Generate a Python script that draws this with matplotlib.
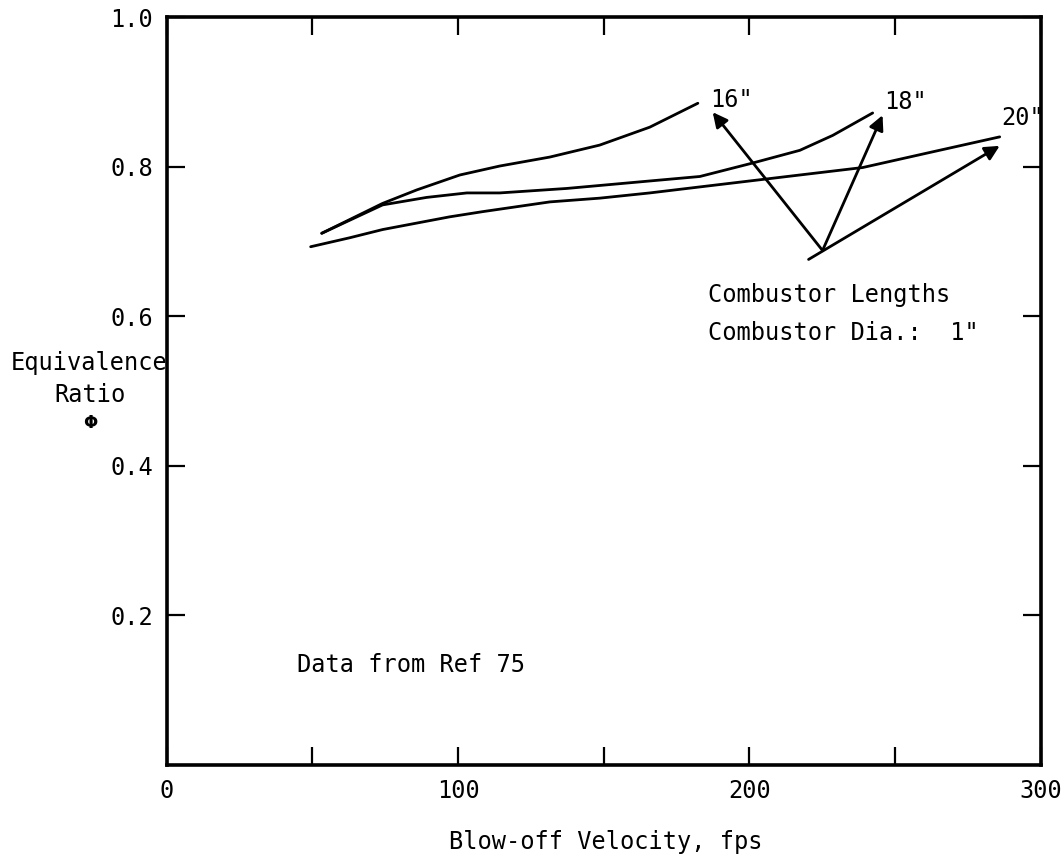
import matplotlib
matplotlib.use("Agg")
import matplotlib.pyplot as plt

# blow-off curves (velocity fps, equivalence ratio)
vel_16 = [53.2, 74.1, 85.8, 100.6, 114.3, 131.5, 148.6, 165.8, 182.3]
phi_16 = [0.711, 0.751, 0.769, 0.789, 0.801, 0.813, 0.829, 0.853, 0.885]

vel_18 = [53.2, 74.1, 89.2, 103.0, 114.3, 137.3, 165.8, 183.0, 201.1, 217.3, 228.6, 242.3]
phi_18 = [0.711, 0.749, 0.759, 0.765, 0.765, 0.771, 0.781, 0.787, 0.805, 0.822, 0.842, 0.872]

vel_20 = [49.4, 62.8, 74.1, 97.1, 108.5, 131.5, 148.6, 165.8, 182.9, 217.3, 238.9, 262.9, 285.9]
phi_20 = [0.693, 0.705, 0.716, 0.733, 0.740, 0.753, 0.758, 0.765, 0.773, 0.789, 0.799, 0.820, 0.840]

length_labels = ['16"', '18"', '20"']
label_pos = [(186.4, 0.889), (246.4, 0.886), (286.6, 0.865)]
arrow_tails = [(225.1, 0.688), (225.1, 0.688), (220.3, 0.676)]
arrow_heads = [(187.4, 0.873), (245.7, 0.869), (285.9, 0.828)]

x_ticks = [0, 50, 100, 150, 200, 250, 300]
x_labels = ["0", "", "100", "", "200", "", "300"]
y_ticks = [0.2, 0.4, 0.6, 0.8, 1.0]
y_labels = ["0.2", "0.4", "0.6", "0.8", "1.0"]

FONT = "DejaVu Sans Mono"
FS = 17

fig = plt.figure(figsize=(10.62, 8.65), dpi=100)
ax = fig.add_axes([0.157, 0.116, 0.823, 0.864])

for v, p in [(vel_16, phi_16), (vel_18, phi_18), (vel_20, phi_20)]:
    ax.plot(v, p, color="black", lw=2.0, solid_capstyle="round", solid_joinstyle="round")

for lab, pos in zip(length_labels, label_pos):
    ax.text(pos[0], pos[1], lab, family=FONT, fontsize=FS, ha="left", va="center")

for tail, head in zip(arrow_tails, arrow_heads):
    ax.annotate("", xy=head, xytext=tail,
                arrowprops=dict(arrowstyle="-|>", color="black", lw=2.0,
                                mutation_scale=22, shrinkA=0, shrinkB=0))

ax.text(185.7, 0.628, "Combustor Lengths", family=FONT, fontsize=FS, ha="left", va="center")
ax.text(185.7, 0.578, 'Combustor Dia.:  1"', family=FONT, fontsize=FS, ha="left", va="center")
ax.text(44.6, 0.134, "Data from Ref 75", family=FONT, fontsize=FS, ha="left", va="center")

ax.set_xlim(0, 300)
ax.set_ylim(0, 1.0)
ax.set_xticks(x_ticks)
ax.set_xticklabels(x_labels, family=FONT, fontsize=FS)
ax.set_yticks(y_ticks)
ax.set_yticklabels(y_labels, family=FONT, fontsize=FS)
ax.tick_params(direction="in", length=13, width=1.6, top=True, right=True, pad=10)

for s in ax.spines.values():
    s.set_linewidth(2.6)

fig.text(0.084, 1 - 363 / 865, "Equivalence", family=FONT, fontsize=FS, ha="center", va="center")
fig.text(0.085, 1 - 395 / 865, "Ratio", family=FONT, fontsize=FS, ha="center", va="center")
fig.text(0.085, 1 - 423 / 865, "\u03a6", family="DejaVu Sans", fontsize=12, weight="bold",
         ha="center", va="center")
fig.text(0.57, 1 - 842 / 865, "Blow-off Velocity, fps", family=FONT, fontsize=FS,
         ha="center", va="center")

fig.savefig("out.png", dpi=100)
